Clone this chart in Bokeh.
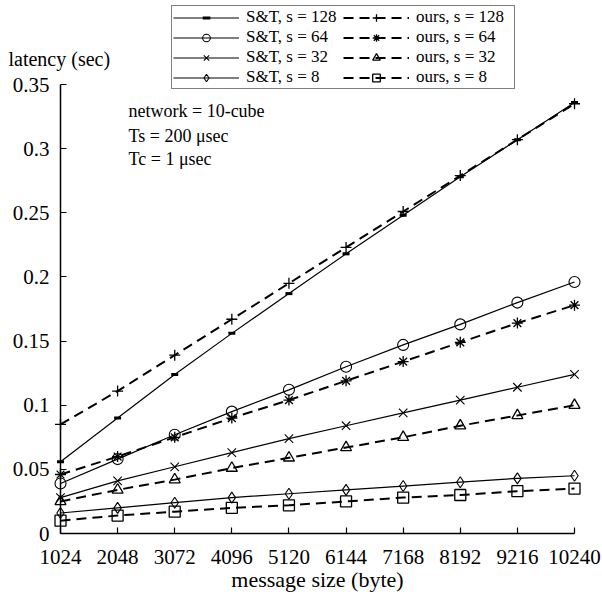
from bokeh.plotting import figure
from bokeh.models import Label, Legend, LegendItem, FixedTicker
from bokeh.embed import file_html
from bokeh.resources import INLINE

# ---- data ----
msg_size = [1024, 2048, 3072, 4096, 5120, 6144, 7168, 8192, 9216, 10240]

st_128 = [0.056, 0.090, 0.124, 0.156, 0.187, 0.218, 0.248, 0.278, 0.307, 0.336]
st_64 = [0.039, 0.058, 0.077, 0.095, 0.112, 0.130, 0.147, 0.163, 0.180, 0.196]
st_32 = [0.028, 0.041, 0.052, 0.063, 0.074, 0.084, 0.094, 0.104, 0.114, 0.124]
st_8 = [0.016, 0.020, 0.024, 0.028, 0.031, 0.034, 0.037, 0.040, 0.043, 0.045]

ours_128 = [0.085, 0.111, 0.139, 0.167, 0.195, 0.223, 0.251, 0.279, 0.307, 0.335]
ours_64 = [0.046, 0.060, 0.075, 0.090, 0.104, 0.119, 0.134, 0.149, 0.164, 0.178]
ours_32 = [0.025, 0.034, 0.042, 0.051, 0.059, 0.067, 0.075, 0.084, 0.092, 0.100]
ours_8 = [0.010, 0.014, 0.017, 0.020, 0.022, 0.025, 0.028, 0.030, 0.033, 0.035]

st_labels = ["S&T, s = 128", "S&T, s = 64", "S&T, s = 32", "S&T, s = 8"]
ours_labels = ["ours, s = 128", "ours, s = 64", "ours, s = 32", "ours, s = 8"]

y_ticks = [0, 0.05, 0.1, 0.15, 0.2, 0.25, 0.3, 0.35]
y_tick_labels = ["0", "0.05", "0.1", "0.15", "0.2", "0.25", "0.3", "0.35"]
x_ticks = msg_size
x_tick_labels = [str(v) for v in msg_size]

x_title = "message size (byte)"
y_title = "latency (sec)"
notes = ["network = 10-cube", "Ts = 200 \u03bcsec", "Tc = 1 \u03bcsec"]

FONT = "Liberation Serif"

# ---- layout geometry (canvas pixels) ----
W, H = 602, 599
AX_L, AX_R = 60, 574     # x = 1024 and x = 10240
AX_B, AX_T = 533, 84     # y = 0 and y = 0.35

x_min, x_max = msg_size[0], msg_size[-1]
y_min, y_max = y_ticks[0], y_ticks[-1]
kx = (x_max - x_min) / (AX_R - AX_L)
ky = (y_max - y_min) / (AX_B - AX_T)
x_lo, x_hi = x_min - AX_L * kx, x_max + (W - AX_R) * kx
y_lo, y_hi = y_min - (H - AX_B) * ky, y_max + AX_T * ky


def px_x(px):
    return x_lo + px * kx


def px_y(py):
    return y_hi - py * ky


p = figure(width=W, height=H, output_backend="svg", toolbar_location=None,
           x_range=(x_lo, x_hi), y_range=(y_lo, y_hi),
           min_border=0, min_border_left=0, min_border_right=0,
           min_border_top=0, min_border_bottom=0)
p.background_fill_color = "white"
p.border_fill_color = "white"
p.outline_line_color = None
p.xgrid.visible = False
p.ygrid.visible = False

for ax, ticks, labels in ((p.xaxis[0], x_ticks, x_tick_labels), (p.yaxis[0], y_ticks, y_tick_labels)):
    ax.ticker = FixedTicker(ticks=ticks)
    ax.major_label_overrides = {t: l for t, l in zip(ticks, labels)}
    ax.major_tick_in = 6
    ax.major_tick_out = 0
    ax.minor_tick_line_color = None
    ax.axis_line_width = 1.5
    ax.major_tick_line_width = 1.2
    ax.axis_line_color = "black"
    ax.major_tick_line_color = "black"
    ax.major_label_text_font = FONT
    ax.major_label_text_font_size = "21px"
    ax.major_label_text_color = "black"
    ax.major_label_standoff = 11
    ax.bounds = (ticks[0], ticks[-1])

p.yaxis[0].fixed_location = x_min
p.xaxis[0].fixed_location = y_min
p.xaxis[0].major_label_standoff = 16
p.xaxis[0].axis_label = x_title
p.xaxis[0].axis_label_text_font = FONT
p.xaxis[0].axis_label_text_font_size = "22px"
p.xaxis[0].axis_label_text_font_style = "normal"
p.xaxis[0].axis_label_text_color = "black"
p.xaxis[0].axis_label_standoff = 0

# ---- series ----
st_series = [st_128, st_64, st_32, st_8]
ours_series = [ours_128, ours_64, ours_32, ours_8]
st_markers = ["dash", "circle", "x", "diamond"]
ours_markers = ["cross", "asterisk", "triangle", "square"]

items = []
for vals, mk, lab in zip(st_series, st_markers, st_labels):
    ln = p.line(msg_size, vals, line_color="black", line_width=1.2)
    if mk == "dash":
        sc = p.scatter(msg_size, vals, marker=mk, size=7, line_color="black", line_width=3)
    else:
        sc = p.scatter(msg_size, vals, marker=mk, size=12 if mk == "x" else 11,
                       line_color="black", fill_color=None, line_width=1.1)
    items.append(LegendItem(label=lab, renderers=[ln, sc]))
for vals, mk, lab in zip(ours_series, ours_markers, ours_labels):
    ln = p.line(msg_size, vals, line_color="black", line_width=2, line_dash="10 6")
    sc = p.scatter(msg_size, vals, marker=mk, size=11, line_color="black",
                   fill_color=None, line_width=1.3)
    items.append(LegendItem(label=lab, renderers=[ln, sc]))

legend = Legend(items=items, ncols=2, location=(171, H - 89),
                border_line_color="black", border_line_width=1.5,
                background_fill_color="white", background_fill_alpha=1.0,
                padding=1, spacing=0, margin=0,
                glyph_width=66, glyph_height=19, label_height=19,
                label_standoff=7, label_width=97,
                label_text_font=FONT, label_text_font_size="17px",
                label_text_color="black")
p.add_layout(legend, "center")

# y title, horizontal, above the axis
p.add_layout(Label(x=px_x(8), y=px_y(58), text=y_title, text_font=FONT, text_font_size="20px",
                   text_baseline="middle", text_align="left", text_color="black"))

note_px_y = [110, 135, 158]
for t, py in zip(notes, note_px_y):
    p.add_layout(Label(x=px_x(128), y=px_y(py), text=t, text_font=FONT, text_font_size="18px",
                       text_baseline="middle", text_align="left", text_color="black"))

open("out.html", "w").write(file_html(p, INLINE))
